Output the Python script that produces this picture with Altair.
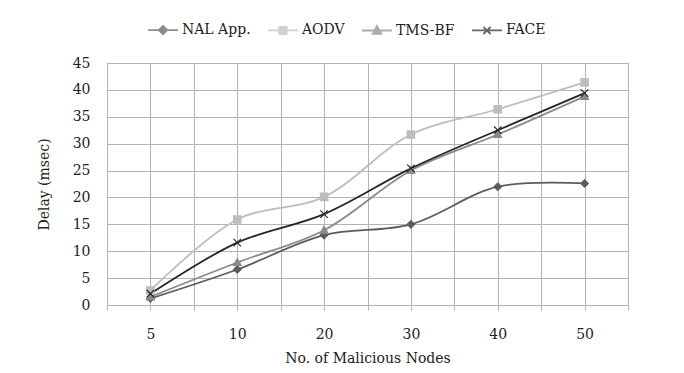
import altair as alt
import pandas as pd

categories = ["5", "10", "20", "30", "40", "50"]
series_names = ["NAL App.", "AODV", "TMS-BF", "FACE"]
nal_app = [1.2, 6.6, 13.0, 15.0, 22.0, 22.6]
aodv = [2.7, 15.9, 20.1, 31.7, 36.4, 41.4]
tms_bf = [1.5, 7.9, 13.9, 25.0, 31.7, 38.8]
face = [2.1, 11.6, 16.9, 25.4, 32.5, 39.4]

colors = ["#5c5c5c", "#bdbdbd", "#8a8a8a", "#262626"]
values_by_series = [nal_app, aodv, tms_bf, face]

rows = []
for name, vals in zip(series_names, values_by_series):
    for i, (c, v) in enumerate(zip(categories, vals)):
        rows.append({"series": name, "idx": i, "cat": c, "delay": v})
df = pd.DataFrame(rows)

FONT = "DejaVu Serif"

marker_paths = [
    "M0,-1L1,0L0,1L-1,0Z",
    "M-1,-1H1V1H-1Z",
    "M0,-1.1L1.05,0.8L-1.05,0.8Z",
    "M-1,-1L1,1M-1,1L1,-1",
]
legend_paths = [
    "M-1,0L1,0M0,-0.28L0.28,0L0,0.28L-0.28,0Z",
    "M-1,0L1,0M-0.24,-0.24H0.24V0.24H-0.24Z",
    "M-1,0L1,0M0,-0.3L0.28,0.22L-0.28,0.22Z",
    "M-1,0L1,0M-0.24,-0.24L0.24,0.24M-0.24,0.24L0.24,-0.24",
]

grid_vals = [i * 0.5 - 0.5 for i in range(13)]
label_expr = "datum.value % 1 === 0 ? " + str(categories) + "[datum.value] : ''"


def cscale():
    return alt.Scale(domain=series_names, range=colors)


x_enc = alt.X(
    "idx:Q",
    scale=alt.Scale(domain=[-0.5, 5.5], nice=False, zero=False),
    axis=alt.Axis(
        values=grid_vals, labelExpr=label_expr, title="No. of Malicious Nodes",
        grid=True, gridColor="#b4b4b4", gridWidth=1, domainColor="#b4b4b4",
        tickColor="#b4b4b4", tickSize=5, labelPadding=17, titlePadding=10,
        labelFont=FONT, titleFont=FONT, labelFontSize=14, titleFontSize=14,
        labelColor="#222", titleColor="#222", titleFontWeight="normal",
        labelFlush=False, labelOverlap=False,
    ),
)
y_enc = alt.Y(
    "delay:Q",
    scale=alt.Scale(domain=[0, 45], nice=False),
    axis=alt.Axis(
        values=list(range(0, 50, 5)), title="Delay (msec)", grid=True,
        gridColor="#b4b4b4", gridWidth=1, domain=False, ticks=False,
        labelPadding=17, titlePadding=21, labelFont=FONT, titleFont=FONT,
        labelFontSize=14, titleFontSize=14, labelColor="#222",
        titleColor="#222", titleFontWeight="normal", labelOverlap=False,
    ),
)

lines = alt.Chart(df).mark_line(interpolate="catmull-rom", strokeWidth=1.8).encode(
    x=x_enc,
    y=y_enc,
    color=alt.Color("series:N", scale=cscale(), legend=None),
    order="idx:Q",
)

points = alt.Chart(df).mark_point(filled=True, size=55, strokeWidth=1.2, opacity=1).encode(
    x=x_enc,
    y=y_enc,
    color=alt.Color("series:N", scale=cscale(), legend=None),
    stroke=alt.Stroke("series:N", scale=cscale(), legend=None),
    shape=alt.Shape("series:N", scale=alt.Scale(domain=series_names, range=marker_paths), legend=None),
)

legend_spec = alt.Legend(
    orient="none", legendX=40, legendY=-49, direction="horizontal",
    title=None, labelFont=FONT, labelFontSize=14, labelColor="#222",
    symbolSize=900, symbolStrokeWidth=1.8, labelOffset=3, columnPadding=13,
)

legend_layer = alt.Chart(df).transform_calculate(hide="0").mark_point(
    filled=True, size=900, strokeWidth=1.8
).encode(
    x=x_enc,
    y=y_enc,
    color=alt.Color("series:N", scale=cscale(), legend=legend_spec),
    stroke=alt.Stroke("series:N", scale=cscale(), legend=legend_spec),
    shape=alt.Shape("series:N", scale=alt.Scale(domain=series_names, range=legend_paths), legend=legend_spec),
    opacity=alt.Opacity("hide:Q", scale=alt.Scale(domain=[0, 1], range=[0, 0]), legend=None),
)

chart = (
    alt.layer(legend_layer, lines, points)
    .resolve_scale(color="independent", stroke="independent", shape="independent")
    .properties(
        width=521, height=242,
        autosize=alt.AutoSizeParams(type="none"),
        padding={"left": 107, "top": 63, "right": 56, "bottom": 68},
        background="white",
    )
    .configure_view(stroke="#b4b4b4", strokeWidth=1)
)

chart.save("out.html", embed_options={"renderer": "svg", "actions": False})
